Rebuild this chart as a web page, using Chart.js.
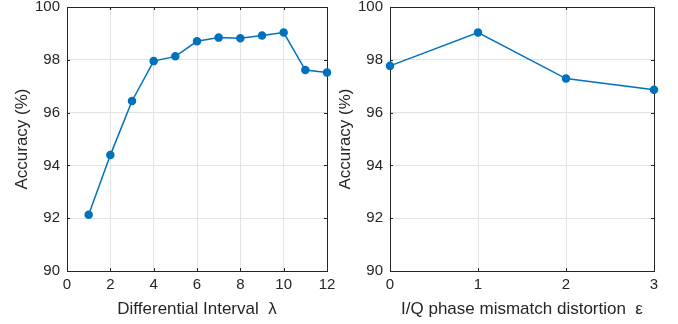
<!DOCTYPE html>
<html>
<head>
<meta charset="utf-8">
<script src="https://cdn.jsdelivr.net/npm/chart.js@4"></script>
<style>
  html, body { margin: 0; padding: 0; background: #fff; }
  .panel { position: absolute; top: 0; width: 339px; height: 324px; }
  #left { left: 0; }
  #right { left: 339px; }
</style>
</head>
<body>
<div class="panel" id="left"><canvas id="intervalChart"></canvas></div>
<div class="panel" id="right"><canvas id="phaseChart"></canvas></div>
<script>
// data
const intervalX = [1, 2, 3, 4, 5, 6, 7, 8, 9, 10, 11, 12];
const intervalAcc = [92.13, 94.39, 96.44, 97.95, 98.13, 98.70, 98.84, 98.82, 98.92, 99.03, 97.61, 97.52];
const phaseX = [0, 1, 2, 3];
const phaseAcc = [97.77, 99.03, 97.29, 96.87];

const lineColor = '#0072bd';
const axisColor = '#262626';
const font = 'Liberation Sans, Arial, Helvetica, sans-serif';

// matlab-ish box with inward ticks on all four sides
const boxPlugin = {
  id: 'box',
  beforeDatasetsDraw(chart) {
    const { ctx, chartArea: a, scales } = chart;
    ctx.save();
    ctx.strokeStyle = axisColor;
    ctx.lineWidth = 1;
    ctx.beginPath();
    const len = 3;
    scales.x.ticks.forEach(t => {
      const px = Math.round(scales.x.getPixelForValue(t.value)) + 0.5;
      ctx.moveTo(px, a.bottom); ctx.lineTo(px, a.bottom - len);
      ctx.moveTo(px, a.top); ctx.lineTo(px, a.top + len);
    });
    scales.y.ticks.forEach(t => {
      const py = Math.round(scales.y.getPixelForValue(t.value)) + 0.5;
      ctx.moveTo(a.left, py); ctx.lineTo(a.left + len, py);
      ctx.moveTo(a.right, py); ctx.lineTo(a.right - len, py);
    });
    ctx.stroke();
    ctx.strokeRect(Math.round(a.left) + 0.5, Math.round(a.top) + 0.5,
      Math.round(a.right - a.left), Math.round(a.bottom - a.top));
    ctx.restore();
  }
};

function makeChart(id, xs, ys, xMax, xStep, xTitle, yWidth, padRight) {
  const points = xs.map((x, i) => ({ x: x, y: ys[i] }));
  return new Chart(document.getElementById(id), {
    type: 'line',
    data: {
      datasets: [{
        data: points,
        borderColor: lineColor,
        backgroundColor: lineColor,
        borderWidth: 1.5,
        pointRadius: 3.5,
        pointHoverRadius: 3.5,
        tension: 0,
        clip: false
      }]
    },
    options: {
      responsive: true,
      maintainAspectRatio: false,
      animation: false,
      events: [],
      layout: { padding: { top: 7, right: padRight, bottom: 0, left: 0 } },
      plugins: { legend: { display: false }, tooltip: { enabled: false } },
      scales: {
        x: {
          type: 'linear',
          min: 0,
          max: xMax,
          afterFit: s => { s.height = 53; s.paddingLeft = 0; s.paddingRight = 0; },
          ticks: { stepSize: xStep, color: axisColor, padding: 5, font: { family: font, size: 15 } },
          grid: { color: '#e3e3e3', drawTicks: false },
          border: { display: false },
          title: { display: true, text: xTitle, color: axisColor, padding: { top: 0, bottom: 4 }, font: { family: font, size: 17 } }
        },
        y: {
          min: 90,
          max: 100,
          afterFit: s => { s.width = yWidth; s.paddingTop = 0; s.paddingBottom = 0; },
          ticks: { stepSize: 2, color: axisColor, padding: 7, font: { family: font, size: 15 } },
          grid: { color: '#e3e3e3', drawTicks: false },
          border: { display: false },
          title: { display: true, text: 'Accuracy (%)', color: axisColor, padding: { top: yWidth - 55, bottom: 0 }, font: { family: font, size: 17 } }
        }
      }
    },
    plugins: [boxPlugin]
  });
}

makeChart('intervalChart', intervalX, intervalAcc, 12, 2, 'Differential Interval  λ', 67, 12);
makeChart('phaseChart', phaseX, phaseAcc, 3, 1, 'I/Q phase mismatch distortion  ε', 51, 24);
</script>
</body>
</html>
